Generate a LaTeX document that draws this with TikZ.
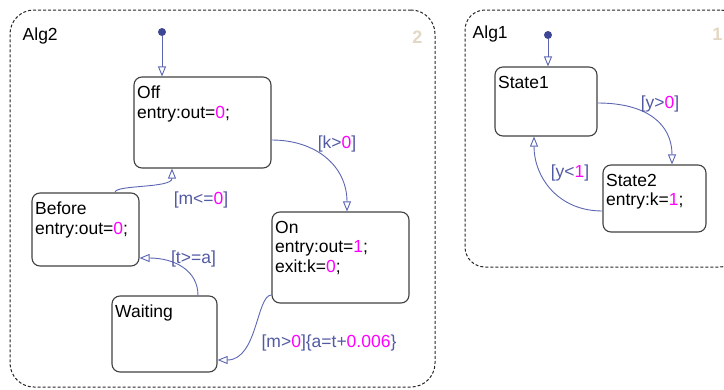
\documentclass[tikz,border=0pt]{standalone}
\usepackage{fontspec}
\setmainfont{Liberation Sans}
\usetikzlibrary{arrows.meta, positioning, calc}
\definecolor{transblue}{RGB}{92,102,178}
\definecolor{guardblue}{RGB}{82,90,162}
\definecolor{numpink}{RGB}{255,0,255}
\definecolor{dotblue}{RGB}{62,70,150}
\definecolor{ordertan}{RGB}{226,216,196}
\newcommand{\mg}[1]{\textcolor{numpink}{#1}}

\begin{document}
\begin{tikzpicture}[x=1pt, y=-1pt,
    every node/.style={font=\fontsize{17.5}{19.5}\selectfont},
    chart/.style={draw=black!85, 
      dash pattern=on 3pt off 2pt, 
      line width=1pt, 
      inner sep=0pt},
    charttitle/.style={anchor=north west, 
      inner sep=0pt},
    chartorder/.style={anchor=north east, 
      inner sep=0pt, 
      text=ordertan, 
      font=\fontsize{18}{19}\selectfont\bfseries},
    state/.style={draw=black!75, 
      line width=1.1pt, 
      rounded corners=8pt, 
      inner sep=0pt},
    statetext/.style={anchor=north west, 
      inner sep=0pt, 
      align=left, 
      xshift=3.5pt, 
      yshift=-9.5pt},
    initdot/.style={circle, 
      fill=dotblue, 
      minimum size=8pt, 
      inner sep=0pt},
    trans/.style={draw=transblue, 
      line width=0.9pt, 
      -{Triangle[open, length=10pt, width=8pt]}},
    guard/.style={text=guardblue, 
      inner sep=1pt}]

  \useasboundingbox (0,0) rectangle (724,389);

  % CHARTS

  \node [chart, rounded corners=24pt, 
    minimum width=425pt, 
    minimum height=377pt] (alg2) at (222.5,198.5) {};
  \node [charttitle] (alg2title) at ($(alg2.north west)+(13,18)$) {Alg2};
  \node [chartorder] (alg2order) at ($(alg2.north east)+(-13,21)$) {2};

  \node [chart, rounded corners=20pt, 
    minimum width=275pt, 
    minimum height=257pt] (alg1) at (602.5,138.5) {};
  \node [charttitle] (alg1title) at ($(alg1.north west)+(8,16)$) {Alg1};
  \node [chartorder] (alg1order) at ($(alg1.north east)+(-18,18)$) {1};

  % STATES

  \node [state, minimum width=137pt, minimum height=91pt, 
    label={[statetext]north west:{Off\\entry:out=\mg{0};}}] 
    (off) at (202.5,122.5) {};

  \node [state, minimum width=107pt, minimum height=73pt, 
    label={[statetext]north west:{Before\\entry:out=\mg{0};}}] 
    (before) at (85.5,229.5) {};

  \node [state, minimum width=137pt, minimum height=91pt, 
    label={[statetext]north west:{On\\entry:out=\mg{1};\\exit:k=\mg{0};}}] 
    (on) at (340.5,257.5) {};

  \node [state, minimum width=105pt, minimum height=76pt, 
    label={[statetext]north west:{Waiting}}] 
    (waiting) at (164.5,334) {};

  \node [state, minimum width=102pt, minimum height=69pt, 
    label={[statetext]north west:{State1}}] 
    (state1) at (546,101.5) {};

  \node [state, minimum width=103pt, minimum height=67pt, 
    label={[statetext]north west:{State2\\entry:k=\mg{1};}}] 
    (state2) at (654.5,198.5) {};

  % DEFAULT TRANSITIONS

  \node [initdot] (init2) at (162,32) {};
  \draw [trans] (init2) -- (init2 |- off.north);

  \node [initdot] (init1) at (548,35) {};
  \draw [trans] (init1) -- (init1 |- state1.north);

  % TRANSITIONS

  \draw [trans] ($(off.east)+(0,17.5)$) 
    .. controls +(45,0) and +(0,-45) .. ($(on.north)+(6.5,0)$);

  \draw [trans] ($(before.north)+(29.5,0)$) 
    .. controls +(0,-8) and +(0,20) .. ($(off.south)+(-30.5,0)$);

  \draw [trans] ($(waiting.north)+(33.5,0)$) 
    .. controls +(0,-25) and +(35,0) .. ($(before.east)+(0,28.5)$);

  \draw [trans] ($(on.west)+(0,37.5)$) 
    .. controls +(-15,0) and +(40,0) .. ($(waiting.east)+(0,26)$);

  \draw [trans] ($(state1.east)+(0,1.5)$) 
    .. controls +(50,0) and +(0,-40) .. ($(state2.north)+(17.5,0)$);

  \draw [trans] ($(state2.west)+(0,12.5)$) 
    .. controls +(-45,0) and +(0,40) .. ($(state1.south)+(-12,0)$);

  % GUARDS

  \node [guard] (guardk) at (337,144) {[k>\mg{0}]};
  \node [guard] (guardm) at (201,200) {[m<=\mg{0}]};
  \node [guard] (guardt) at (193.5,259) {[t>=a]};
  \node [guard] (guardma) at (329,343) {[m>\mg{0}]\{a=t+\mg{0.006}\}};
  \node [guard] (guardy1) at (660,104) {[y>\mg{0}]};
  \node [guard] (guardy0) at (570,173) {[y<\mg{1}]};

\end{tikzpicture}
\end{document}
